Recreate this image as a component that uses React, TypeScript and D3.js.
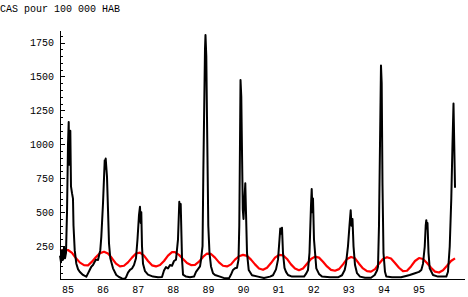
import React from "react";
import * as d3 from "d3";

// ---- data (decimal year, cases per 100 000) ----
const titleText = "CAS pour 100 000 HAB";
const yTickValues = [250, 500, 750, 1000, 1250, 1500, 1750];
const xTickYears = [85, 86, 87, 88, 89, 90, 91, 92, 93, 94, 95];

const incidence: [number, number][] = [
  [84.772, 180], [84.801, 130], [84.829, 220], [84.858, 150], [84.886, 240], [84.915, 160],
  [84.943, 200], [84.972, 500], [85.0, 1000], [85.02, 1164], [85.037, 850], [85.066, 1100],
  [85.085, 690], [85.114, 640], [85.142, 600], [85.157, 400], [85.191, 220], [85.236, 122],
  [85.285, 80], [85.333, 61], [85.427, 37], [85.521, 24], [85.57, 49], [85.618, 74],
  [85.664, 98], [85.712, 110], [85.761, 135], [85.798, 150], [85.855, 147], [85.92, 220],
  [85.949, 318], [85.997, 564], [86.046, 882], [86.063, 820], [86.074, 895], [86.111, 760],
  [86.14, 515], [86.168, 270], [86.205, 160], [86.282, 86], [86.376, 37], [86.453, 22],
  [86.538, 12], [86.615, 8], [86.652, 20], [86.709, 55], [86.766, 75], [86.823, 85],
  [86.88, 110], [86.937, 160], [86.98, 300], [87.023, 480], [87.051, 540], [87.071, 420],
  [87.088, 500], [87.108, 250], [87.137, 120], [87.194, 65], [87.279, 40], [87.422, 25],
  [87.564, 20], [87.678, 22], [87.735, 70], [87.792, 95], [87.849, 85], [87.906, 110],
  [87.963, 105], [88.02, 140], [88.077, 150], [88.134, 300], [88.171, 576], [88.191, 520],
  [88.211, 560], [88.235, 300], [88.249, 150], [88.277, 40], [88.363, 25], [88.476, 20],
  [88.59, 25], [88.647, 60], [88.704, 80], [88.761, 100], [88.789, 147], [88.833, 250],
  [88.856, 800], [88.903, 1700], [88.917, 1805], [88.94, 1650], [88.96, 1200], [88.997, 400],
  [89.031, 200], [89.074, 100], [89.131, 50], [89.188, 37], [89.33, 25], [89.473, 12],
  [89.587, 12], [89.644, 40], [89.701, 74], [89.758, 86], [89.815, 90], [89.858, 150],
  [89.88, 400], [89.9, 1000], [89.915, 1473], [89.937, 1350], [89.957, 950], [89.98, 520],
  [90.0, 450], [90.028, 600], [90.051, 713], [90.071, 500], [90.1, 200], [90.148, 74],
  [90.242, 35], [90.413, 25], [90.584, 15], [90.755, 25], [90.84, 35], [90.926, 78],
  [90.983, 150], [91.026, 300], [91.048, 380], [91.068, 340], [91.097, 385], [91.125, 200],
  [91.168, 90], [91.211, 60], [91.268, 37], [91.382, 25], [91.61, 25], [91.724, 25],
  [91.789, 49], [91.838, 74], [91.88, 200], [91.923, 550], [91.943, 670], [91.966, 500],
  [91.98, 600], [92.008, 300], [92.074, 86], [92.151, 45], [92.236, 25], [92.464, 20],
  [92.692, 20], [92.806, 35], [92.883, 74], [92.92, 120], [92.977, 250], [93.019, 400],
  [93.054, 514], [93.077, 400], [93.105, 450], [93.134, 250], [93.177, 110], [93.234, 50],
  [93.319, 25], [93.462, 17], [93.633, 17], [93.738, 37], [93.804, 70], [93.832, 98],
  [93.86, 400], [93.889, 1000], [93.917, 1580], [93.937, 1450], [93.96, 700], [93.988, 200],
  [94.031, 60], [94.068, 25], [94.231, 20], [94.487, 20], [94.63, 30], [94.735, 37],
  [94.886, 50], [95.0, 60], [95.066, 74], [95.114, 120], [95.163, 245], [95.191, 400],
  [95.208, 441], [95.228, 380], [95.242, 420], [95.271, 200], [95.305, 86], [95.399, 37],
  [95.541, 25], [95.778, 25], [95.826, 61], [95.875, 245], [95.92, 600], [95.954, 1000],
  [95.983, 1300], [96.011, 900], [96.026, 680],
];

const seasonalTrend: [number, number][] = [
  [84.772, 215], [84.886, 220], [85.0, 221], [85.114, 200], [85.228, 160], [85.342, 128],
  [85.456, 110], [85.57, 108], [85.684, 135], [85.798, 170], [85.912, 198], [86.026, 208],
  [86.14, 195], [86.254, 160], [86.368, 120], [86.481, 100], [86.595, 105], [86.709, 130],
  [86.823, 165], [86.937, 195], [87.051, 202], [87.165, 180], [87.279, 140], [87.393, 108],
  [87.507, 100], [87.621, 110], [87.735, 140], [87.849, 180], [87.963, 205], [88.048, 205],
  [88.162, 185], [88.276, 155], [88.39, 125], [88.504, 110], [88.618, 112], [88.732, 135],
  [88.846, 170], [88.96, 195], [89.074, 192], [89.188, 165], [89.302, 130], [89.416, 105],
  [89.53, 100], [89.644, 115], [89.758, 150], [89.872, 175], [89.986, 185], [90.1, 178],
  [90.214, 150], [90.328, 115], [90.442, 85], [90.556, 75], [90.67, 90], [90.784, 125],
  [90.898, 165], [91.012, 185], [91.126, 182], [91.24, 155], [91.353, 115], [91.467, 85],
  [91.581, 72], [91.695, 85], [91.809, 120], [91.923, 155], [92.037, 172], [92.151, 165],
  [92.265, 135], [92.379, 100], [92.493, 75], [92.607, 68], [92.721, 80], [92.835, 115],
  [92.949, 155], [93.063, 170], [93.177, 160], [93.291, 120], [93.405, 85], [93.519, 65],
  [93.633, 62], [93.747, 80], [93.861, 120], [93.974, 155], [94.088, 168], [94.202, 158],
  [94.316, 125], [94.43, 90], [94.544, 65], [94.658, 68], [94.772, 100], [94.886, 140],
  [95.0, 162], [95.114, 155], [95.228, 125], [95.342, 90], [95.456, 62], [95.57, 55],
  [95.684, 72], [95.798, 105], [95.912, 140], [96.026, 160],
];

const FONT = "'Liberation Mono', 'DejaVu Sans Mono', monospace";

export default function App() {
  const W = 468;
  const H = 297;
  const axisX = 60.5;
  const axisY = 279.5;
  const axisTop = 31;
  const axisRight = 465;

  const x = d3.scaleLinear().domain([85, 96]).range([68, 454.1]);
  const y = d3.scaleLinear().domain([0, 1750]).range([280, 42.5]);

  const line = d3
    .line<[number, number]>()
    .x((d) => x(d[0]))
    .y((d) => y(d[1]));

  const topValue = y.invert(axisTop);
  const minorTicks = d3.range(50, topValue, 50).filter((v) => v % 250 !== 0);

  return (
    <div style={{ position: "absolute", left: 0, top: 0 }}>
      <svg width={W} height={H} style={{ display: "block", background: "#fff" }}>
        <rect width={W} height={H} fill="#fff" />
        <text x={0} y={12} fontFamily={FONT} fontSize={10} fill="#000">
          {titleText}
        </text>

        {/* red seasonal curve */}
        <path
          d={line(seasonalTrend) || ""}
          fill="none"
          stroke="#ff0000"
          strokeWidth={2.2}
          strokeLinejoin="round"
        />
        {/* black incidence */}
        <path
          d={line(incidence) || ""}
          fill="none"
          stroke="#000"
          strokeWidth={2}
          strokeLinejoin="round"
        />

        {/* axes */}
        <line x1={axisX} x2={axisX} y1={axisTop} y2={axisY + 0.5} stroke="#000" strokeWidth={1} shapeRendering="crispEdges" />
        <line x1={axisX} x2={axisRight} y1={axisY} y2={axisY} stroke="#000" strokeWidth={1} shapeRendering="crispEdges" />

        {minorTicks.map((v) => (
          <line
            key={"m" + v}
            x1={axisX}
            x2={axisX + 2.5}
            y1={Math.round(y(v)) + 0.5}
            y2={Math.round(y(v)) + 0.5}
            stroke="#000"
            strokeWidth={1}
            shapeRendering="crispEdges"
          />
        ))}
        {yTickValues.map((v) => (
          <g key={"t" + v}>
            <line
              x1={axisX}
              x2={axisX + 4.5}
              y1={Math.round(y(v)) + 0.5}
              y2={Math.round(y(v)) + 0.5}
              stroke="#000"
              strokeWidth={1}
              shapeRendering="crispEdges"
            />
            <text
              x={54}
              y={y(v) + 3.5}
              textAnchor="end"
              fontFamily={FONT}
              fontSize={10}
              fill="#000"
            >
              {v}
            </text>
          </g>
        ))}
        {xTickYears.map((yr) => (
          <text
            key={"x" + yr}
            x={x(yr)}
            y={293}
            textAnchor="middle"
            fontFamily={FONT}
            fontSize={10}
            fill="#000"
          >
            {yr}
          </text>
        ))}
      </svg>
    </div>
  );
}
